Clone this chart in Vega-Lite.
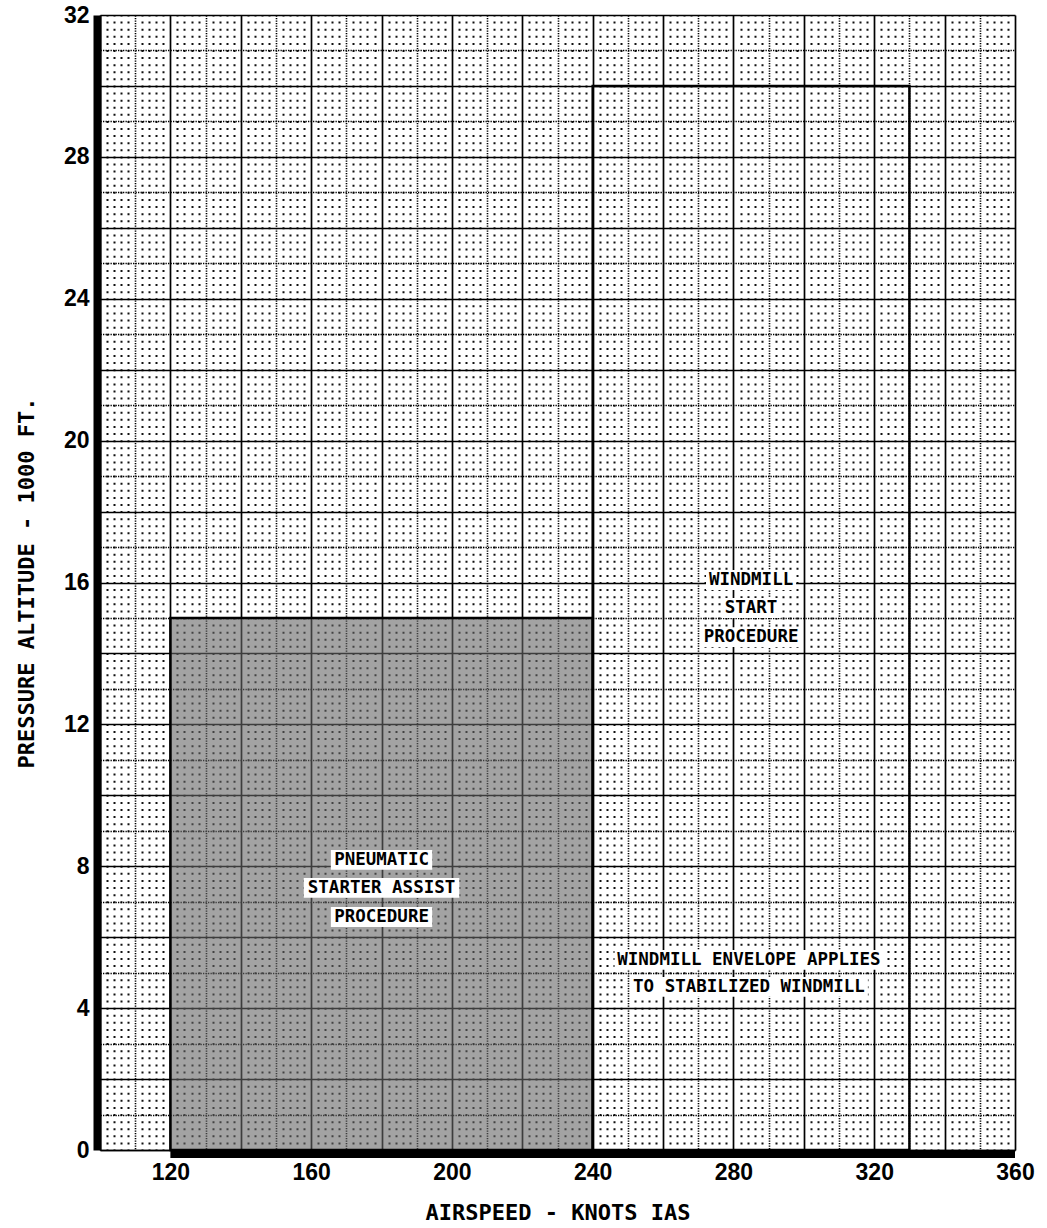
{
  "$schema": "https://vega.github.io/schema/vega-lite/v6.json",
  "width": 915,
  "height": 1135,
  "autosize": {"type": "none"},
  "padding": {"left": 100, "top": 15, "right": 32, "bottom": 78},
  "background": "#ffffff",
  "config": {"view": {"stroke": null}},
  "datasets": {
    "gray": [{"x": 120, "x2": 240, "y": 0, "y2": 15}],
    "envelope": [{"x": 240, "x2": 330, "y": 0, "y2": 30}],
    "base": [{"x": 120, "x2": 360, "y": 0}],
    "boxes": [
      {"x": 272.2, "x2": 297.8, "y": 15.79, "y2": 16.35},
      {"x": 276.6, "x2": 293.4, "y": 15.0, "y2": 15.56},
      {"x": 270.6, "x2": 299.4, "y": 14.18, "y2": 14.74},
      {"x": 165.6, "x2": 194.4, "y": 7.9, "y2": 8.46},
      {"x": 157.9, "x2": 202.1, "y": 7.11, "y2": 7.67},
      {"x": 165.6, "x2": 194.4, "y": 6.29, "y2": 6.85},
      {"x": 246.2, "x2": 322.6, "y": 5.08, "y2": 5.64},
      {"x": 250.6, "x2": 318.2, "y": 4.32, "y2": 4.88}
    ],
    "labels": [
      {"x": 285, "y": 16.07, "text": "WINDMILL"},
      {"x": 285, "y": 15.28, "text": "START"},
      {"x": 285, "y": 14.46, "text": "PROCEDURE"},
      {"x": 180, "y": 8.18, "text": "PNEUMATIC"},
      {"x": 180, "y": 7.39, "text": "STARTER ASSIST"},
      {"x": 180, "y": 6.57, "text": "PROCEDURE"},
      {"x": 284.4, "y": 5.36, "text": "WINDMILL ENVELOPE APPLIES"},
      {"x": 284.4, "y": 4.6, "text": "TO STABILIZED WINDMILL"}
    ]
  },
  "resolve": {"axis": {"x": "independent", "y": "independent"}},
  "layer": [
    {
      "data": {"name": "gray"},
      "mark": {"type": "rect", "fill": "#666666", "fillOpacity": 0.6, "stroke": "#000000", "strokeWidth": 2.5},
      "encoding": {
        "x": {
          "field": "x", "type": "quantitative",
          "scale": {"domain": [100, 360], "nice": false, "zero": false},
          "axis": {
            "orient": "bottom",
            "values": [100, 120, 140, 160, 180, 200, 220, 240, 260, 280, 300, 320, 340, 360],
            "labelExpr": "datum.value % 40 == 0 ? datum.label : ''",
            "grid": true, "gridColor": "#000000", "gridWidth": 1.7, "gridOpacity": 1,
            "ticks": false,
            "domain": true, "domainColor": "#000000", "domainWidth": 1.5,
            "labelFont": "Liberation Sans", "labelFontWeight": "bold", "labelFontSize": 23, "labelColor": "#000000",
            "labelPadding": 11, "labelFlush": false, "labelOverlap": false,
            "title": "AIRSPEED - KNOTS IAS",
            "titleFont": "DejaVu Sans Mono", "titleFontWeight": "bold", "titleFontSize": 22, "titleColor": "#000000",
            "titlePadding": 18
          }
        },
        "x2": {"field": "x2"},
        "y": {
          "field": "y", "type": "quantitative",
          "scale": {"domain": [0, 32], "nice": false, "zero": false},
          "axis": {
            "orient": "left",
            "values": [0, 2, 4, 6, 8, 10, 12, 14, 16, 18, 20, 22, 24, 26, 28, 30, 32],
            "labelExpr": "datum.value % 4 == 0 ? datum.label : ''",
            "grid": true, "gridColor": "#000000", "gridWidth": 1.7, "gridOpacity": 1,
            "ticks": false,
            "domain": true, "domainColor": "#000000", "domainWidth": 8, "offset": 3,
            "labelFont": "Liberation Sans", "labelFontWeight": "bold", "labelFontSize": 23, "labelColor": "#000000",
            "labelPadding": 8, "labelFlush": false, "labelOverlap": false,
            "title": "PRESSURE ALTITUDE - 1000 FT.",
            "titleFont": "DejaVu Sans Mono", "titleFontWeight": "bold", "titleFontSize": 22, "titleColor": "#000000",
            "titlePadding": 25
          }
        },
        "y2": {"field": "y2"}
      }
    },
    {
      "data": {"name": "boxes"},
      "mark": {"type": "rect", "fill": "#ffffff", "strokeWidth": 0},
      "encoding": {
        "x": {
          "field": "x", "type": "quantitative",
          "scale": {"domain": [100, 360], "nice": false, "zero": false},
          "axis": {
            "orient": "bottom",
            "values": [110, 130, 150, 170, 190, 210, 230, 250, 270, 290, 310, 330, 350],
            "grid": true, "gridColor": "#000000", "gridWidth": 1.6, "gridDash": [1.3, 1.2], "gridOpacity": 1,
            "labels": false, "ticks": false, "domain": false, "title": null
          }
        },
        "x2": {"field": "x2"},
        "y": {
          "field": "y", "type": "quantitative",
          "scale": {"domain": [0, 32], "nice": false, "zero": false},
          "axis": {
            "orient": "left",
            "values": [1, 3, 5, 7, 9, 11, 13, 15, 17, 19, 21, 23, 25, 27, 29, 31],
            "grid": true, "gridColor": "#000000", "gridWidth": 1.6, "gridDash": [1.3, 1.2], "gridOpacity": 1,
            "labels": false, "ticks": false, "domain": false, "title": null
          }
        },
        "y2": {"field": "y2"}
      }
    },
    {
      "data": {"name": "envelope"},
      "mark": {"type": "rect", "fill": "#ffffff", "fillOpacity": 0, "stroke": "#000000", "strokeWidth": 2.5},
      "encoding": {
        "x": {
          "field": "x", "type": "quantitative",
          "scale": {"domain": [100, 360], "nice": false, "zero": false},
          "axis": {
            "orient": "bottom",
            "values": [102,104,106,108,112,114,116,118,122,124,126,128,132,134,136,138,142,144,146,148,152,154,156,158,162,164,166,168,172,174,176,178,182,184,186,188,192,194,196,198,202,204,206,208,212,214,216,218,222,224,226,228,232,234,236,238,242,244,246,248,252,254,256,258,262,264,266,268,272,274,276,278,282,284,286,288,292,294,296,298,302,304,306,308,312,314,316,318,322,324,326,328,332,334,336,338,342,344,346,348,352,354,356,358],
            "grid": true, "gridColor": "#111111", "gridWidth": 2, "gridDash": [2, 5.09375], "gridDashOffset": 1, "gridOpacity": 1,
            "labels": false, "ticks": false, "domain": false, "title": null
          }
        },
        "x2": {"field": "x2"},
        "y": {
          "field": "y", "type": "quantitative",
          "scale": {"domain": [0, 32], "nice": false, "zero": false},
          "axis": null
        },
        "y2": {"field": "y2"}
      }
    },
    {
      "data": {"name": "base"},
      "mark": {"type": "rule", "stroke": "#000000", "strokeWidth": 8, "yOffset": 4},
      "encoding": {
        "x": {"field": "x", "type": "quantitative", "scale": {"domain": [100, 360], "nice": false, "zero": false}, "axis": null},
        "x2": {"field": "x2"},
        "y": {"field": "y", "type": "quantitative", "scale": {"domain": [0, 32], "nice": false, "zero": false}, "axis": null}
      }
    },
    {
      "data": {"name": "labels"},
      "mark": {"type": "text", "font": "DejaVu Sans Mono", "fontWeight": "bold", "fontSize": 17.5, "fill": "#000000", "align": "center", "baseline": "middle"},
      "encoding": {
        "x": {"field": "x", "type": "quantitative", "scale": {"domain": [100, 360], "nice": false, "zero": false}, "axis": null},
        "y": {"field": "y", "type": "quantitative", "scale": {"domain": [0, 32], "nice": false, "zero": false}, "axis": null},
        "text": {"field": "text", "type": "nominal"}
      }
    }
  ]
}
